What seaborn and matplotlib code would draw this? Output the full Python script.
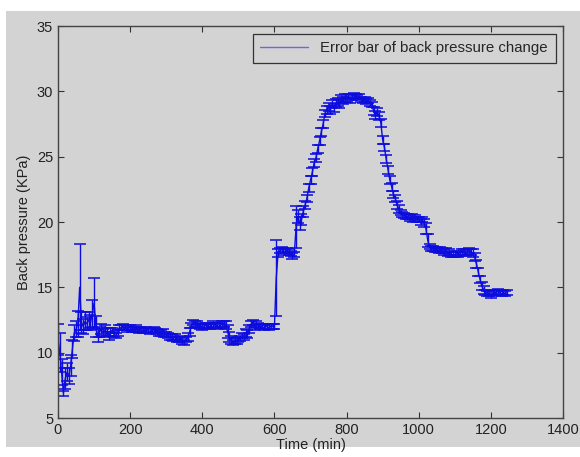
import matplotlib
matplotlib.use("Agg")
import matplotlib.pyplot as plt
import seaborn as sns
import pandas as pd
from matplotlib.patches import Rectangle

# sample times (min), one every 5 min
time_min = list(range(0, 1250, 5))

# back pressure (KPa), 20 values per 100 min
pressure = [
    11.0, 10.0, 8.5, 6.9, 8.0, 8.5, 8.2, 9.0, 10.3, 11.5, 11.8, 12.2, 15.0, 12.3, 12.0, 12.4, 12.2, 12.5, 12.3, 13.0,
    13.8, 12.0, 11.3, 11.6, 11.8, 11.5, 11.7, 11.6, 11.3, 11.6, 11.7, 11.4, 11.3, 11.5, 11.9, 11.9, 12.0, 11.9, 11.8, 11.9,
    11.9, 11.8, 11.8, 11.9, 11.8, 11.7, 11.8, 11.7, 11.7, 11.8, 11.7, 11.6, 11.7, 11.8, 11.7, 11.6, 11.5, 11.5, 11.6, 11.4,
    11.4, 11.3, 11.2, 11.2, 11.1, 11.2, 11.0, 11.0, 11.1, 10.9, 10.8, 11.0, 11.2, 11.6, 12.1, 12.3, 12.2, 12.2, 12.1, 12.0,
    11.9, 12.0, 12.1, 12.0, 12.0, 12.1, 12.2, 12.1, 12.1, 12.0, 12.1, 12.2, 12.2, 12.1, 11.6, 11.2, 11.0, 10.8, 10.9, 10.9,
    11.0, 11.1, 11.3, 11.2, 11.5, 11.4, 11.8, 12.2, 12.3, 11.9, 12.2, 12.1, 12.0, 12.0, 11.9, 12.0, 12.0, 11.9, 12.0, 12.0,
    12.0, 15.7, 17.6, 17.8, 17.9, 17.8, 17.7, 17.8, 17.7, 17.6, 17.4, 17.5, 19.6, 20.4, 19.9, 20.2, 20.8, 21.3, 21.8, 22.6,
    23.2, 23.8, 24.5, 24.9, 25.6, 26.2, 26.9, 27.5, 28.3, 28.6, 28.8, 28.6, 29.0, 28.7, 29.1, 29.2, 29.0, 29.4, 29.3, 29.5,
    29.4, 29.6, 29.3, 29.5, 29.7, 29.6, 29.5, 29.6, 29.4, 29.3, 29.4, 29.2, 29.3, 29.1, 29.0, 28.5, 28.2, 28.4, 28.1, 27.6,
    26.3, 25.7, 24.8, 24.0, 23.2, 22.7, 22.1, 21.8, 21.3, 21.0, 20.7, 20.6, 20.5, 20.4, 20.4, 20.3, 20.4, 20.2, 20.3, 20.2,
    20.2, 20.0, 20.2, 19.9, 19.5, 18.6, 18.1, 18.0, 18.0, 17.9, 17.9, 17.8, 17.9, 17.8, 17.7, 17.8, 17.6, 17.7, 17.5, 17.5,
    17.5, 17.6, 17.5, 17.6, 17.7, 17.7, 17.6, 17.7, 17.8, 17.7, 17.6, 17.3, 16.8, 16.2, 15.6, 15.1, 14.8, 14.6, 14.5, 14.5,
    14.4, 14.5, 14.6, 14.6, 14.7, 14.6, 14.5, 14.6, 14.5, 14.6,
]

# half-width of each error bar (KPa)
error = [
    1.2, 1.5, 1.0, 0.2, 0.8, 0.7, 0.6, 0.8, 0.7, 0.6, 0.6, 1.0, 3.3, 0.8, 0.6, 0.7, 0.5, 0.6, 0.6, 1.0,
    1.9, 0.8, 0.5, 0.4, 0.4, 0.3, 0.4, 0.3, 0.3, 0.3, 0.2, 0.2, 0.2, 0.2, 0.2, 0.2, 0.2, 0.2, 0.2, 0.2,
    0.2, 0.2, 0.2, 0.2, 0.2, 0.2, 0.2, 0.2, 0.2, 0.2, 0.2, 0.2, 0.2, 0.2, 0.2, 0.2, 0.2, 0.2, 0.2, 0.2,
    0.2, 0.2, 0.2, 0.2, 0.2, 0.2, 0.2, 0.2, 0.2, 0.2, 0.2, 0.2, 0.3, 0.3, 0.2, 0.2, 0.2, 0.2, 0.2, 0.2,
    0.2, 0.2, 0.2, 0.2, 0.2, 0.2, 0.2, 0.2, 0.2, 0.2, 0.2, 0.2, 0.2, 0.3, 0.5, 0.4, 0.3, 0.2, 0.2, 0.2,
    0.2, 0.2, 0.2, 0.2, 0.3, 0.3, 0.3, 0.2, 0.2, 0.2, 0.2, 0.2, 0.2, 0.2, 0.2, 0.2, 0.2, 0.2, 0.2, 0.2,
    0.2, 2.9, 0.3, 0.2, 0.2, 0.2, 0.2, 0.2, 0.2, 0.2, 0.2, 0.2, 1.6, 0.5, 0.5, 0.4, 0.4, 0.3, 0.3, 0.3,
    0.3, 0.3, 0.3, 0.3, 0.3, 0.3, 0.3, 0.3, 0.3, 0.3, 0.3, 0.3, 0.3, 0.3, 0.3, 0.3, 0.3, 0.3, 0.3, 0.3,
    0.2, 0.2, 0.2, 0.2, 0.2, 0.2, 0.2, 0.2, 0.2, 0.2, 0.2, 0.2, 0.2, 0.2, 0.2, 0.3, 0.3, 0.3, 0.3, 0.3,
    0.3, 0.3, 0.3, 0.3, 0.3, 0.3, 0.3, 0.3, 0.3, 0.3, 0.2, 0.2, 0.2, 0.2, 0.2, 0.2, 0.2, 0.2, 0.2, 0.2,
    0.2, 0.2, 0.2, 0.3, 0.4, 0.5, 0.2, 0.2, 0.2, 0.2, 0.2, 0.2, 0.2, 0.2, 0.2, 0.2, 0.2, 0.2, 0.2, 0.2,
    0.2, 0.2, 0.2, 0.2, 0.2, 0.2, 0.2, 0.2, 0.2, 0.2, 0.3, 0.3, 0.3, 0.3, 0.3, 0.3, 0.3, 0.2, 0.2, 0.2,
    0.2, 0.2, 0.2, 0.2, 0.2, 0.2, 0.2, 0.2, 0.2, 0.2,
]

x_ticks = [0, 200, 400, 600, 800, 1000, 1200, 1400]
y_ticks = [5, 10, 15, 20, 25, 30, 35]

df = pd.DataFrame({"time": time_min, "pressure": pressure, "err": error})

grey = "#d3d3d3"
blue = "#0c0cde"

sns.set_style("ticks")
plt.rcParams["font.family"] = ["Liberation Sans", "DejaVu Sans"]

fig = plt.figure(figsize=(5.8, 4.57), dpi=100)
fig.patch.set_facecolor("white")
# grey matlab figure panel (white strip top/left/bottom)
panel = Rectangle((6 / 580, 10 / 457), 1 - 6 / 580, 1 - 21 / 457,
                  transform=fig.transFigure, facecolor=grey,
                  edgecolor="none", zorder=-10)
fig.patches.append(panel)

ax = fig.add_axes([0.1, 0.0853, 0.8707, 0.8578])
ax.set_facecolor(grey)

sns.lineplot(data=df, x="time", y="pressure", ax=ax, color=blue, lw=1.0,
             label="Error bar of back pressure change", errorbar=None)
ax.errorbar(df["time"], df["pressure"], yerr=df["err"], fmt="none",
            ecolor=blue, elinewidth=1.0, capsize=4, capthick=1.1)

ax.set_xlim(0, 1400)
ax.set_ylim(5, 35)
ax.set_xticks(x_ticks)
ax.set_yticks(y_ticks)
ax.tick_params(direction="in", length=4, width=0.8, top=True, right=True,
               labelsize=10.5, colors="#333333", labelcolor="#222222")
for s in ax.spines.values():
    s.set_visible(True)
    s.set_color("#444444")
    s.set_linewidth(1.0)

ax.set_xlabel("Time (min)", fontsize=10.5, labelpad=1, color="#222222")
ax.set_ylabel("Back pressure (KPa)", fontsize=10.5, labelpad=4, color="#222222")

leg = ax.legend(loc="upper right", fontsize=10.8, frameon=True, fancybox=False,
                borderaxespad=0.5, handlelength=3.2, borderpad=0.5)
leg.get_frame().set_facecolor(grey)
leg.get_frame().set_edgecolor("#333333")
leg.get_frame().set_linewidth(0.9)
leg.get_frame().set_alpha(1)
leg.get_lines()[0].set_color("#6a6ad8")

fig.savefig("out.png", dpi=100, facecolor=fig.get_facecolor())
